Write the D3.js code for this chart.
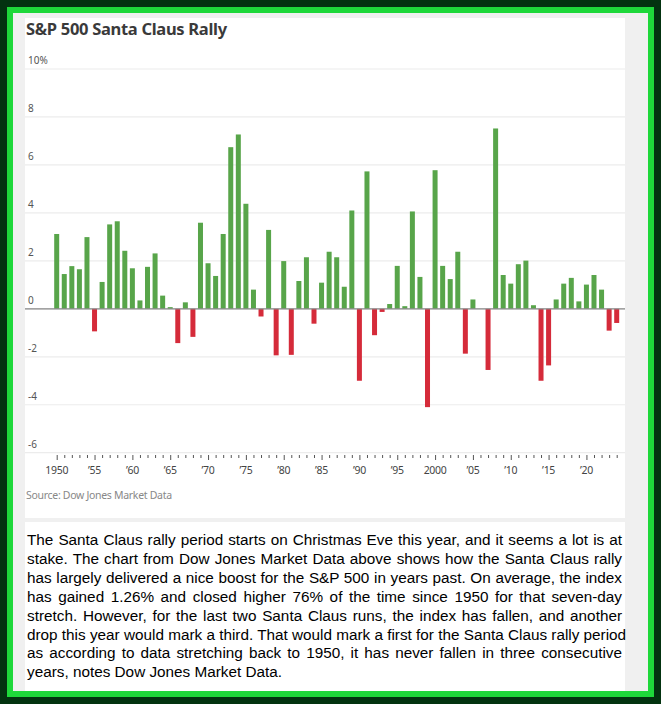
<html>
<head>
<script src="https://cdnjs.cloudflare.com/ajax/libs/d3/7.8.5/d3.min.js"></script>
<style>
  body { margin: 0; background: #033310; }
  #frame { position: absolute; left: 7px; top: 7px; width: 647px; height: 690px; box-sizing: border-box;
           border: 6px solid #1ed83a; background: #f0f0f0; overflow: hidden; }
  #chart { position: absolute; left: 12px; top: 5px; }
  #story { position: absolute; left: 12px; top: 509px; width: 600px; height: 175px; background: #fff;
           font-family: "Liberation Sans", Arial, sans-serif; font-size: 15.3px; color: #000; padding: 9px 3px 0 2px; box-sizing: border-box; }
  #story div { line-height: 18.9px; text-align: justify; text-align-last: justify; white-space: nowrap; }
  #story div.last { text-align-last: left; }
</style>
</head>
<body>
<div id="frame">
  <svg id="chart" width="600" height="500"></svg>
  <div id="story"></div>
</div>
<script>
var years = d3.range(1950, 2025);
var values = [3.12, 1.45, 1.78, 1.65, 2.99, -0.94, 1.12, 3.52, 3.65, 2.42,
              1.69, 0.35, 1.75, 2.31, 0.55, 0.07, -1.43, 0.27, -1.17, 3.59,
              1.90, 1.37, 3.12, 6.74, 7.27, 4.38, 0.80, -0.32, 3.29, -1.94,
              1.99, -1.92, 1.16, 2.15, -0.62, 1.09, 2.38, 2.15, 0.92, 4.10,
              -3.00, 5.73, -1.10, -0.13, 0.20, 1.79, 0.11, 4.06, 1.33, -4.10,
              5.78, 1.79, 1.24, 2.38, -1.87, 0.39, 0, -2.55, 7.52, 1.41,
              1.05, 1.86, 2.01, 0.15, -3.00, -2.36, 0.39, 1.05, 1.29, 0.31,
              1.01, 1.41, 0.80, -0.91, -0.59];
var yTicks = [10, 8, 6, 4, 2, 0, -2, -4, -6];
var xLabelYears = [1950, 1955, 1960, 1965, 1970, 1975, 1980, 1985, 1990, 1995, 2000, 2005, 2010, 2015, 2020];
var story = [
  "The Santa Claus rally period starts on Christmas Eve this year, and it seems a lot is at",
  "stake. The chart from Dow Jones Market Data above shows how the Santa Claus rally",
  "has largely delivered a nice boost for the S&P 500 in years past. On average, the index",
  "has gained 1.26% and closed higher 76% of the time since 1950 for that seven-day",
  "stretch. However, for the last two Santa Claus runs, the index has fallen, and another",
  "drop this year would mark a third. That would mark a first for the Santa Claus rally period",
  "as according to data stretching back to 1950, it has never fallen in three consecutive",
  "years, notes Dow Jones Market Data."
];

var svg = d3.select("#chart");
svg.append("rect").attr("width", 600).attr("height", 500).attr("fill", "#fff");

svg.append("text").attr("x", 1).attr("y", 17)
  .attr("font-family", "Noto Sans, sans-serif").attr("font-weight", "bold")
  .attr("font-size", 16.5).attr("fill", "#3a3a3a").attr("letter-spacing", -0.3)
  .text("S&P 500 Santa Claus Rally");

var y = d3.scaleLinear().domain([-6, 10]).range([434.7, 51]);
// bar centres
var x = d3.scalePoint().domain(years).range([31.7, 591.7]);
var bw = 5;

var grid = svg.append("g");
grid.selectAll("line").data(yTicks).enter().append("line")
  .attr("x1", 0).attr("x2", 600)
  .attr("y1", function(d) { return y(d); }).attr("y2", function(d) { return y(d); })
  .attr("stroke", "#ececec").attr("stroke-width", 1.2);
grid.selectAll("text").data(yTicks).enter().append("text")
  .attr("x", 3).attr("y", function(d) { return y(d) - 5; })
  .attr("font-family", "Noto Sans, sans-serif").attr("font-size", 10).attr("fill", "#555")
  .text(function(d) { return d == 10 ? "10%" : d; });

svg.selectAll(".bar").data(values).enter().append("rect")
  .attr("x", function(d, i) { return x(years[i]) - bw / 2; })
  .attr("width", bw)
  .attr("y", function(d) { return y(Math.max(0, d)); })
  .attr("height", function(d) { return Math.abs(y(d) - y(0)); })
  .attr("fill", function(d) { return d >= 0 ? "#58a54a" : "#d52b3a"; });

svg.append("line").attr("x1", 0).attr("x2", 600).attr("y1", y(0)).attr("y2", y(0))
  .attr("stroke", "#888").attr("stroke-width", 1.2);

var xAxis = d3.axisBottom(x).tickSize(3).tickFormat("");
var ax = svg.append("g").attr("transform", "translate(0,437)").call(xAxis);
ax.select(".domain").remove();
ax.selectAll("line").attr("stroke", "#555")
  .attr("y2", function(d) { return d % 5 == 0 ? 5 : 3; });

svg.append("g").selectAll("text").data(xLabelYears).enter().append("text")
  .attr("x", function(d) { return x(d); }).attr("y", 456)
  .attr("text-anchor", "middle").attr("font-family", "Noto Sans, sans-serif")
  .attr("font-size", 10.5).attr("fill", "#444").attr("letter-spacing", -0.3)
  .text(function(d) { return d == 1950 || d == 2000 ? d : "\u2019" + String(d).slice(2); });

svg.append("text").attr("x", 1).attr("y", 481)
  .attr("font-family", "Noto Sans, sans-serif").attr("font-size", 10.5).attr("fill", "#888")
  .attr("letter-spacing", -0.3)
  .text("Source: Dow Jones Market Data");

d3.select("#story").selectAll("div").data(story).enter().append("div")
  .attr("class", function(d, i) { return i == story.length - 1 ? "last" : null; })
  .text(function(d) { return d; });
</script>
</body>
</html>
